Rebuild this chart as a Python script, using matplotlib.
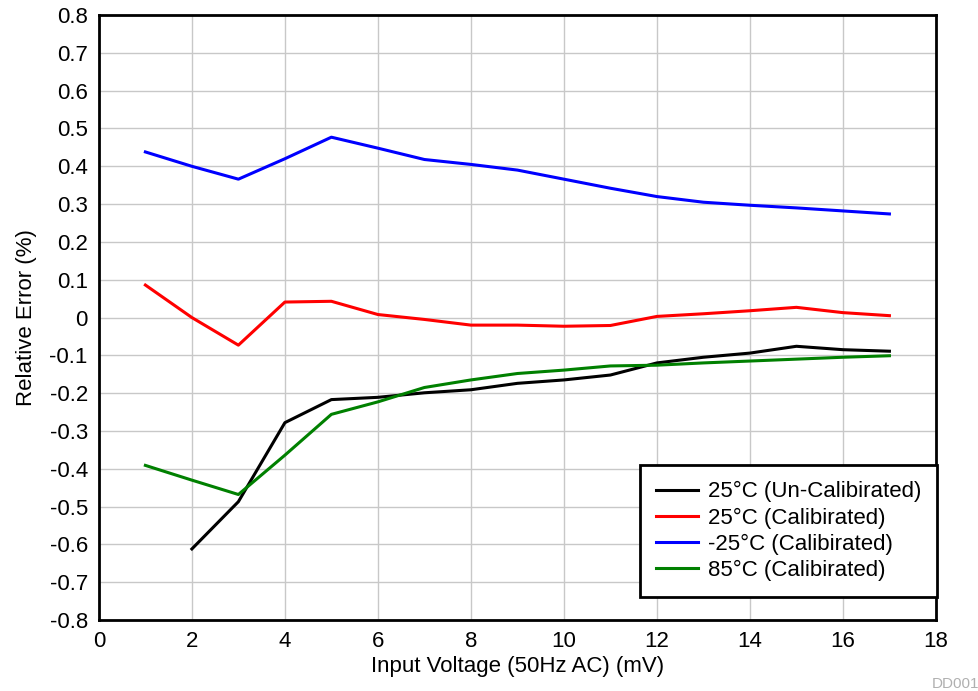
import matplotlib
matplotlib.use("Agg")
import matplotlib.pyplot as plt

plt.rcParams['font.family'] = ['Liberation Sans', 'DejaVu Sans']

x_uncal = [2, 3, 4, 5, 6, 7, 8, 9, 10, 11, 12, 13, 14, 15, 16, 17]
y_uncal = [-0.612, -0.487, -0.278, -0.217, -0.211, -0.199, -0.191, -0.174, -0.165, -0.152,
           -0.12, -0.105, -0.094, -0.076, -0.085, -0.089]

x_cal = [1, 2, 3, 4, 5, 6, 7, 8, 9, 10, 11, 12, 13, 14, 15, 16, 17]
y_25 = [0.086, 0.0, -0.073, 0.041, 0.043, 0.008, -0.005, -0.02, -0.02, -0.023, -0.021,
        0.003, 0.01, 0.018, 0.027, 0.013, 0.005]
y_m25 = [0.438, 0.40, 0.366, 0.42, 0.477, 0.448, 0.418, 0.405, 0.39, 0.366, 0.342,
         0.32, 0.305, 0.297, 0.29, 0.282, 0.274]
y_85 = [-0.391, -0.43, -0.468, -0.364, -0.256, -0.223, -0.185, -0.165, -0.148, -0.139,
        -0.128, -0.126, -0.12, -0.115, -0.11, -0.105, -0.101]

labels = ['25°C (Un-Calibirated)', '25°C (Calibirated)', '-25°C (Calibirated)', '85°C (Calibirated)']

fig = plt.figure(figsize=(9.79, 6.91), dpi=100)
ax = fig.add_axes([0.101, 0.1027, 0.855, 0.8755])

ax.plot(x_uncal, y_uncal, color='black', lw=2.2, label=labels[0])
ax.plot(x_cal, y_25, color='#ff0000', lw=2.2, label=labels[1])
ax.plot(x_cal, y_m25, color='#0000ff', lw=2.2, label=labels[2])
ax.plot(x_cal, y_85, color='#008000', lw=2.2, label=labels[3])

ax.set_xlim(0, 18)
ax.set_ylim(-0.8, 0.8)
ax.set_xticks(range(0, 19, 2))
yt = [round(-0.8 + 0.1 * i, 1) for i in range(17)]
ax.set_yticks(yt)
ax.set_yticklabels(['0' if abs(v) < 1e-9 else f'{v:.1f}' for v in yt])
ax.tick_params(length=0, labelsize=16, pad=8)
ax.grid(True, color='#c8c8c8', lw=1)
ax.set_axisbelow(True)
for s in ax.spines.values():
    s.set_linewidth(2)
    s.set_color('black')

ax.set_xlabel('Input Voltage (50Hz AC) (mV)', fontsize=16, labelpad=3)
ax.set_ylabel('Relative Error (%)', fontsize=16, labelpad=9)

leg = ax.legend(loc='upper left', bbox_to_anchor=(0.647, 0.256), borderaxespad=0,
                fontsize=16, fancybox=False, framealpha=1, edgecolor='black',
                handlelength=1.85, handletextpad=0.45, labelspacing=0.23,
                borderpad=0.72)
leg.get_frame().set_linewidth(2)

fig.text(0.952, 0.004, 'DD001', color='#b0b0b0', fontsize=11)

fig.savefig('out.png', dpi=100)
